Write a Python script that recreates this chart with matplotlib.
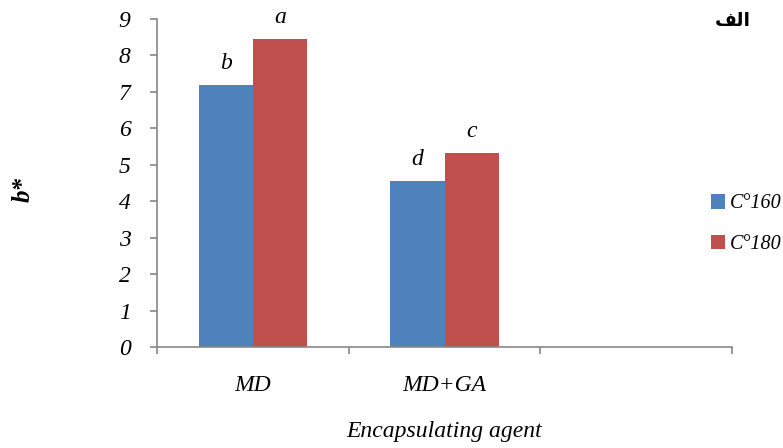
import numpy as np
import matplotlib.pyplot as plt

categories = ["MD", "MD+GA", ""]
t160 = [7.19, 4.56, np.nan]
t180 = [8.45, 5.32, np.nan]
letters160 = ["b", "d", ""]
letters180 = ["a", "c", ""]
series_labels = ["C°160", "C°180"]

serif = ["Liberation Serif", "DejaVu Serif"]
plt.rcParams['font.family'] = serif

fig = plt.figure(figsize=(7.83, 4.48), dpi=100)
ax = fig.add_axes([0.2005, 0.2254, 0.7344, 0.7322])

x = np.arange(len(categories))
w = 0.282
ax.bar(x - w / 2, t160, w, color="#4f81bd", label=series_labels[0])
ax.bar(x + w / 2, t180, w, color="#c0504d", label=series_labels[1])

for xi, v, s in zip(x - w / 2, t160, letters160):
    if s:
        ax.annotate(s, (xi, v), xytext=(0, 8), textcoords="offset points",
                    ha="center", va="bottom", fontsize=17, style="italic")
for xi, v, s in zip(x + w / 2, t180, letters180):
    if s:
        ax.annotate(s, (xi, v), xytext=(0, 8), textcoords="offset points",
                    ha="center", va="bottom", fontsize=17, style="italic")

ax.set_xlim(-0.5, 2.5)
ax.set_ylim(0, 9)
ax.set_yticks(range(10))
ax.set_yticklabels([str(i) for i in range(10)], fontsize=17, style="italic")
ax.set_xticks(x[:2])
ax.set_xticklabels(categories[:2], fontsize=17, style="italic")
ax.set_xticks([-0.5, 0.5, 1.5, 2.5], minor=True)
ax.tick_params(axis="x", which="major", length=0, pad=20)
ax.tick_params(axis="x", which="minor", length=5, color="#868686", width=1.2)
ax.tick_params(axis="y", length=5, color="#868686", width=1.2, pad=14)

for s in ["top", "right"]:
    ax.spines[s].set_visible(False)
for s in ["left", "bottom"]:
    ax.spines[s].set_color("#868686")
    ax.spines[s].set_linewidth(1.2)

ax.set_xlabel("Encapsulating agent", fontsize=17, style="italic", labelpad=18)
fig.text(0.03, 0.578, "b*", rotation=90, fontsize=18, style="italic",
         weight="bold", ha="center", va="center")

# Arabic "الف" written with presentation forms (no shaping in matplotlib)
fig.text(0.959, 0.955, "\uFED2\uFEDF\uFE8D", fontsize=13.5, weight="bold",
         family="DejaVu Sans", ha="right", va="center")

ax.legend(loc="center left", bbox_to_anchor=(0.963, 0.375), frameon=False,
          handlelength=0.72, handleheight=0.72, handletextpad=0.25,
          labelspacing=1.05, borderaxespad=0, borderpad=0,
          prop={"size": 14.5, "style": "italic", "family": serif})

fig.savefig("out.png", dpi=100)
